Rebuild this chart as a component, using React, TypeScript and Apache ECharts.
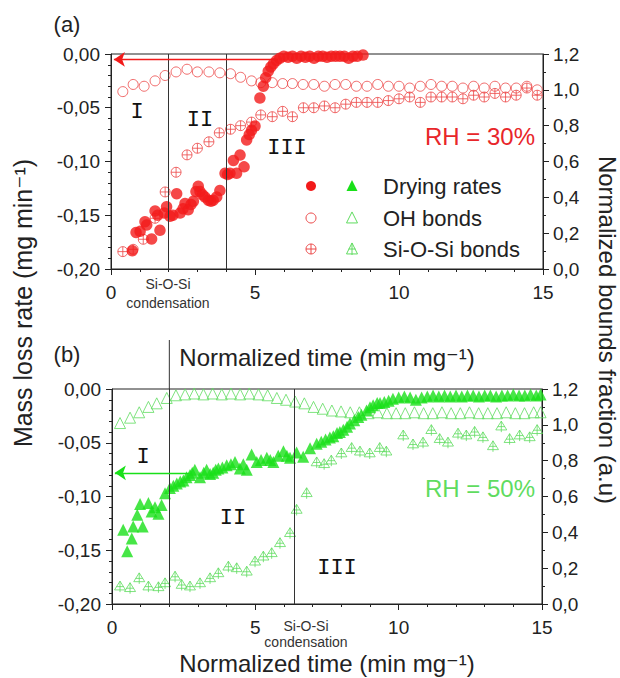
import { useEffect, useRef } from 'react';
import * as echarts from 'echarts';

// ---------- data ----------
const xTickValues = [0, 5, 10, 15];
const leftTicks = [-0.2, -0.15, -0.1, -0.05, 0];
const rightTicks = [0, 0.2, 0.4, 0.6, 0.8, 1.0, 1.2];
const stageLinesA = [2, 4];
const stageLinesB = [2, 6.35];

// (a) RH = 30 %
const dryingA: [number, number][] = [
  [0.74, -0.183], [0.87, -0.166], [1.01, -0.165], [1.18, -0.156], [1.24, -0.159], [1.41, -0.172],
  [1.53, -0.146], [1.62, -0.150], [1.7, -0.164], [1.85, -0.148], [1.93, -0.142], [2.05, -0.151],
  [2.15, -0.150], [2.28, -0.130], [2.4, -0.148], [2.5, -0.144], [2.57, -0.139], [2.68, -0.145],
  [2.78, -0.140], [2.86, -0.137], [2.95, -0.128], [3.03, -0.123], [3.09, -0.128], [3.18, -0.131],
  [3.26, -0.133], [3.38, -0.136], [3.47, -0.137], [3.55, -0.136], [3.67, -0.133], [3.78, -0.127],
  [3.96, -0.111], [4.05, -0.112], [4.13, -0.111], [4.25, -0.099], [4.36, -0.111], [4.48, -0.094],
  [4.62, -0.105], [4.71, -0.080], [4.8, -0.075], [4.88, -0.071], [5.0, -0.067], [5.17, -0.041],
  [5.29, -0.030], [5.37, -0.022], [5.46, -0.016], [5.55, -0.012], [5.64, -0.009], [5.75, -0.006],
  [5.86, -0.004], [6.0, -0.002], [6.15, -0.003], [6.3, -0.002], [6.45, -0.004], [6.6, -0.002],
  [6.75, -0.003], [6.9, -0.002], [7.05, -0.004], [7.2, -0.002], [7.35, -0.002], [7.5, -0.003],
  [7.65, -0.002], [7.8, -0.002], [7.95, -0.002], [8.1, -0.002], [8.25, -0.004], [8.4, -0.002],
  [8.55, -0.002], [8.75, -0.001],
];
const ohA: [number, number][] = [
  [0.41, 0.99], [0.77, 1.03], [1.15, 1.02], [1.53, 1.05], [1.88, 1.08], [2.26, 1.10], [2.64, 1.115],
  [3.0, 1.10], [3.4, 1.10], [3.78, 1.095], [4.15, 1.09], [4.5, 1.07], [4.88, 1.05], [5.2, 1.04],
  [5.6, 1.04], [5.96, 1.035], [6.3, 1.035], [6.67, 1.03], [7.04, 1.03], [7.41, 1.02], [7.78, 1.03],
  [8.15, 1.03], [8.52, 1.02], [8.89, 1.02], [9.26, 1.03], [9.63, 1.02], [10.0, 1.02], [10.37, 1.01],
  [10.74, 1.02], [11.11, 1.03], [11.48, 1.02], [11.85, 1.02], [12.22, 1.01], [12.59, 1.02],
  [12.96, 1.01], [13.33, 1.02], [13.7, 1.01], [14.07, 1.01], [14.44, 1.02], [14.8, 1.0],
];
const siosiA: [number, number][] = [
  [0.41, 0.097], [0.77, 0.11], [1.12, 0.166], [1.53, 0.283], [1.88, 0.43], [2.26, 0.54], [2.64, 0.637],
  [3.0, 0.674], [3.4, 0.71], [3.76, 0.76], [4.15, 0.78], [4.5, 0.80], [4.88, 0.82], [5.2, 0.86],
  [5.6, 0.85], [5.96, 0.88], [6.3, 0.85], [6.68, 0.90], [7.04, 0.90], [7.41, 0.91], [7.78, 0.90],
  [8.15, 0.92], [8.52, 0.93], [8.89, 0.93], [9.26, 0.93], [9.63, 0.94], [10.0, 0.95], [10.37, 0.96],
  [10.74, 0.93], [11.11, 0.96], [11.48, 0.96], [11.85, 0.96], [12.22, 0.95], [12.59, 0.97],
  [12.96, 0.96], [13.33, 0.98], [13.7, 0.96], [14.07, 0.97], [14.44, 1.01], [14.8, 0.97],
];

// (b) RH = 50 %
const dryingB: [number, number][] = [
  [0.39, -0.131], [0.53, -0.151], [0.69, -0.139], [0.74, -0.128], [0.88, -0.117], [0.98, -0.107],
  [1.07, -0.128], [1.27, -0.106], [1.38, -0.114], [1.5, -0.110], [1.62, -0.116], [1.73, -0.108],
  [1.85, -0.097], [2.02, -0.092], [2.14, -0.090], [2.26, -0.088], [2.38, -0.086], [2.49, -0.085],
  [2.6, -0.082], [2.72, -0.080], [2.8, -0.078], [2.89, -0.075], [3.07, -0.082], [3.2, -0.078],
  [3.3, -0.075], [3.42, -0.079], [3.53, -0.078], [3.62, -0.075], [3.71, -0.074], [3.85, -0.073],
  [4.0, -0.071], [4.15, -0.070], [4.29, -0.068], [4.46, -0.074], [4.58, -0.070], [4.7, -0.075],
  [4.87, -0.061], [5.05, -0.068], [5.2, -0.066], [5.4, -0.064], [5.52, -0.066], [5.63, -0.068],
  [5.8, -0.062], [5.98, -0.058], [6.1, -0.062], [6.21, -0.064], [6.44, -0.059], [6.67, -0.063],
  [6.91, -0.055], [7.14, -0.051], [7.3, -0.049], [7.45, -0.047], [7.6, -0.045], [7.72, -0.044],
  [7.85, -0.041], [7.95, -0.040], [8.07, -0.038], [8.2, -0.035], [8.3, -0.032], [8.45, -0.029],
  [8.59, -0.026], [8.7, -0.024], [8.88, -0.020], [9.0, -0.017], [9.11, -0.015], [9.25, -0.013],
  [9.35, -0.013], [9.5, -0.012], [9.65, -0.011], [9.8, -0.009], [10.0, -0.008], [10.2, -0.007],
  [10.4, -0.008], [10.6, -0.010], [10.8, -0.008], [11.0, -0.007], [11.2, -0.006], [11.4, -0.007],
  [11.6, -0.006], [11.8, -0.007], [12.0, -0.006], [12.2, -0.007], [12.4, -0.006], [12.6, -0.006],
  [12.8, -0.007], [13.0, -0.006], [13.2, -0.006], [13.4, -0.007], [13.6, -0.006], [13.8, -0.006],
  [14.0, -0.005], [14.2, -0.006], [14.4, -0.006], [14.6, -0.005], [14.8, -0.006], [14.95, -0.005],
];
const ohB: [number, number][] = [
  [0.28, 1.01], [0.63, 1.04], [0.95, 1.07], [1.27, 1.10], [1.56, 1.12], [1.91, 1.15], [2.23, 1.165],
  [2.55, 1.17], [2.87, 1.175], [3.19, 1.17], [3.51, 1.175], [3.83, 1.17], [4.15, 1.175], [4.47, 1.17],
  [4.79, 1.175], [5.11, 1.17], [5.43, 1.165], [5.75, 1.15], [6.07, 1.14], [6.39, 1.13], [6.71, 1.12],
  [7.03, 1.10], [7.35, 1.09], [7.67, 1.08], [7.99, 1.075], [8.31, 1.07], [8.63, 1.07], [8.95, 1.065],
  [9.27, 1.07], [9.59, 1.065], [9.91, 1.065], [10.23, 1.065], [10.55, 1.07], [10.87, 1.065],
  [11.19, 1.065], [11.51, 1.07], [11.83, 1.065], [12.15, 1.065], [12.47, 1.07], [12.79, 1.065],
  [13.11, 1.065], [13.43, 1.065], [13.75, 1.07], [14.07, 1.065], [14.39, 1.065], [14.71, 1.07],
  [14.95, 1.07],
];
const siosiB: [number, number][] = [
  [0.28, 0.097], [0.63, 0.088], [0.95, 0.143], [1.27, 0.097], [1.62, 0.093], [1.85, 0.115],
  [2.2, 0.152], [2.43, 0.106], [2.72, 0.097], [3.07, 0.115], [3.42, 0.143], [3.71, 0.171],
  [4.06, 0.208], [4.35, 0.199], [4.7, 0.18], [4.99, 0.236], [5.28, 0.264], [5.57, 0.283],
  [5.86, 0.339], [6.21, 0.395], [6.44, 0.525], [6.79, 0.618], [7.14, 0.79], [7.4, 0.78],
  [7.65, 0.80], [8.0, 0.84], [8.36, 0.87], [8.65, 0.85], [8.99, 0.84], [9.34, 0.87], [9.57, 0.85],
  [10.16, 0.94], [10.5, 0.89], [10.85, 0.90], [11.14, 0.97], [11.43, 0.92], [11.72, 0.90],
  [12.07, 0.95], [12.36, 0.94], [12.65, 0.96], [12.94, 0.93], [13.29, 0.88], [13.58, 0.99],
  [13.87, 0.92], [14.22, 0.94], [14.57, 0.93], [14.83, 0.97],
];

// arrows pointing to the left axis
const arrowA: [number, number][] = [[5.8, -0.005], [0.1, -0.005]];
const arrowB: [number, number][] = [[2.7, -0.078], [0.1, -0.078]];

const legendLabels = ['Drying rates', 'OH bonds', 'Si-O-Si bonds'];

// ---------- styles ----------
const FONT = '"Liberation Sans", Arial, "DejaVu Sans", sans-serif';
const MONO = '"Liberation Mono", "Courier New", monospace';
const RED = '#f21a1a';
const RED_L = '#ec4646';
const GREEN = '#19e019';
const GREEN_L = '#5fdc5f';
const AX = '#222';

const CIRCLE_PLUS = 'path://M0,-10 A10,10 0 1,1 0,10 A10,10 0 1,1 0,-10 Z M0,-10 L0,10 M-10,0 L10,0';
const TRI_PLUS = 'path://M0,-10 L9,6 L-9,6 Z M0,-10 L0,10 M-6,0 L6,0';

const fmtLeft = (v: number) => (Math.abs(v) < 1e-9 ? '0,00' : v.toFixed(2).replace('.', ','));
const fmtRight = (v: number) => v.toFixed(1).replace('.', ',');

function xAxisCfg(gridIndex: number, nameGap: number) {
  return {
    type: 'value', gridIndex, position: 'bottom',
    min: xTickValues[0], max: xTickValues[xTickValues.length - 1], interval: xTickValues[1] - xTickValues[0],
    name: 'Normalized time (min mg⁻¹)', nameLocation: 'middle', nameGap,
    nameTextStyle: { fontSize: 24, fontFamily: FONT, color: AX },
    axisLine: { show: true, onZero: false, lineStyle: { color: AX, width: 1 } },
    axisTick: { show: true, length: 6, lineStyle: { color: AX } },
    minorTick: { show: true, splitNumber: 5, length: 3, lineStyle: { color: AX } },
    splitLine: { show: false },
    axisLabel: { fontSize: 19, fontFamily: FONT, color: AX, margin: 14 },
  };
}
function yLeftCfg(gridIndex: number) {
  return {
    type: 'value', gridIndex, position: 'left',
    min: leftTicks[0], max: leftTicks[leftTicks.length - 1], interval: 0.05,
    axisLine: { show: true, onZero: false, lineStyle: { color: AX, width: 1 } },
    axisTick: { show: true, length: 6, lineStyle: { color: AX } },
    minorTick: { show: true, splitNumber: 5, length: 3, lineStyle: { color: AX } },
    splitLine: { show: false },
    axisLabel: { fontSize: 19, fontFamily: FONT, color: AX, margin: 11, formatter: fmtLeft },
  };
}
function yRightCfg(gridIndex: number) {
  return {
    type: 'value', gridIndex, position: 'right',
    min: rightTicks[0], max: rightTicks[rightTicks.length - 1], interval: 0.2,
    axisLine: { show: true, onZero: false, lineStyle: { color: AX, width: 1 } },
    axisTick: { show: true, length: 6, lineStyle: { color: AX } },
    minorTick: { show: true, splitNumber: 2, length: 3, lineStyle: { color: AX } },
    splitLine: { show: false },
    axisLabel: { fontSize: 19, fontFamily: FONT, color: AX, margin: 10, formatter: fmtRight },
  };
}

function stageMarkLine(values: number[]) {
  return {
    silent: true, symbol: 'none', animation: false,
    label: { show: false },
    lineStyle: { color: '#333', width: 1, type: 'solid' },
    emphasis: { disabled: true },
    data: values.map((v) => ({ xAxis: v })),
  };
}
function arrowMarkLine(pts: [number, number][], color: string) {
  return {
    silent: true, symbol: ['none', 'arrow'], symbolSize: 11, animation: false,
    label: { show: false },
    itemStyle: { color },
    lineStyle: { color, width: 1.3, type: 'solid', opacity: 1 },
    emphasis: { disabled: true },
    data: [[{ coord: pts[0] }, { coord: pts[1] }]],
  };
}

export default function App() {
  const ref = useRef<HTMLDivElement>(null);
  useEffect(() => {
    document.body.style.margin = '0';
    if (!ref.current) return;
    const chart = echarts.init(ref.current, null, { renderer: 'svg' });
    const option: any = {
      animation: false,
      backgroundColor: '#fff',
      grid: [
        { left: 111, top: 54, width: 432, height: 215, show: true, borderColor: AX, borderWidth: 1, backgroundColor: 'transparent' },
        { left: 112, top: 389, width: 430, height: 215, show: true, borderColor: AX, borderWidth: 1, backgroundColor: 'transparent' },
      ],
      xAxis: [xAxisCfg(0, 76), xAxisCfg(1, 47)],
      yAxis: [yLeftCfg(0), yRightCfg(0), yLeftCfg(1), yRightCfg(1)],
      series: [
        {
          name: 'OH bonds (a)', type: 'scatter', xAxisIndex: 0, yAxisIndex: 1, data: ohA,
          symbol: 'circle', symbolSize: 10,
          itemStyle: { color: 'transparent', borderColor: RED_L, borderWidth: 1 },
          markLine: stageMarkLine(stageLinesA),
        },
        {
          name: 'Si-O-Si bonds (a)', type: 'scatter', xAxisIndex: 0, yAxisIndex: 1, data: siosiA,
          symbol: CIRCLE_PLUS, symbolSize: 10,
          itemStyle: { color: 'transparent', borderColor: RED_L, borderWidth: 1 },
        },
        {
          name: 'Drying rates (a)', type: 'scatter', xAxisIndex: 0, yAxisIndex: 0, data: dryingA,
          symbol: 'circle', symbolSize: 11.5,
          itemStyle: { color: RED },
          markLine: arrowMarkLine(arrowA, RED),
        },
        {
          name: 'OH bonds (b)', type: 'scatter', xAxisIndex: 1, yAxisIndex: 3, data: ohB,
          symbol: 'triangle', symbolSize: 11,
          itemStyle: { color: 'transparent', borderColor: GREEN_L, borderWidth: 1 },
          markLine: stageMarkLine(stageLinesB),
        },
        {
          name: 'Si-O-Si bonds (b)', type: 'scatter', xAxisIndex: 1, yAxisIndex: 3, data: siosiB,
          symbol: TRI_PLUS, symbolSize: 11,
          itemStyle: { color: 'transparent', borderColor: GREEN_L, borderWidth: 1 },
        },
        {
          name: 'Drying rates (b)', type: 'scatter', xAxisIndex: 1, yAxisIndex: 2, data: dryingB,
          symbol: 'triangle', symbolSize: 12,
          itemStyle: { color: GREEN },
          markLine: arrowMarkLine(arrowB, GREEN),
        },
      ],
    };
    chart.setOption(option);

    // extension of the first stage line of panel (b) above the frame
    const lineX = chart.convertToPixel({ xAxisIndex: 1 }, stageLinesB[0]) as number;
    const topY = chart.convertToPixel({ yAxisIndex: 2 }, 0) as number;

    const txt = (text: string, x: number, y: number, fontSize: number, fill: string, extra: any = {}) => ({
      type: 'text', x, y, silent: true,
      style: { text, fontSize, fontFamily: FONT, fill, align: 'center', verticalAlign: 'middle', ...extra },
    });
    const roman = (text: string, x: number, y: number) => ({
      type: 'text', x, y, silent: true,
      style: { text, fontSize: 22, fontFamily: MONO, fill: '#111', align: 'center', verticalAlign: 'middle' },
    });

    const legendRows = [186, 218, 249];
    const lxR = 311, lxG = 352, lxT = 383;
    const tri = (cx: number, cy: number, s: number) => [[cx, cy - s * 0.55], [cx + s * 0.5, cy + s * 0.45], [cx - s * 0.5, cy + s * 0.45]];

    const graphic: any[] = [
      { type: 'line', silent: true, shape: { x1: lineX, y1: 340, x2: lineX, y2: topY }, style: { stroke: '#333', lineWidth: 1 } },
      txt('(a)', 67, 24, 22, '#222'),
      txt('(b)', 67, 354, 22, '#222'),
      { ...txt('Mass loss rate (mg min⁻¹)', 23, 303, 25, '#222'), rotation: Math.PI / 2 },
      { ...txt('Normalized bounds fraction (a.u)', 607, 330, 24, '#222'), rotation: -Math.PI / 2 },
      txt('Si-O-Si\ncondensation', 168, 293, 14, '#333', { lineHeight: 19 }),
      txt('Si-O-Si\ncondensation', 306, 634, 14, '#333', { lineHeight: 16 }),
      txt('RH = 30%', 480, 136, 24, '#e8262a'),
      txt('RH = 50%', 480, 488, 24, GREEN_L),
      roman('I', 137, 112), roman('II', 200, 120), roman('III', 287, 148),
      roman('I', 143, 457), roman('II', 233, 518), roman('III', 337, 568),
      // legend
      { type: 'circle', silent: true, shape: { cx: lxR, cy: legendRows[0], r: 5 }, style: { fill: RED } },
      { type: 'polygon', silent: true, shape: { points: tri(lxG, legendRows[0], 11) }, style: { fill: GREEN } },
      { type: 'circle', silent: true, shape: { cx: lxR, cy: legendRows[1], r: 5 }, style: { fill: 'none', stroke: RED_L, lineWidth: 1 } },
      { type: 'polygon', silent: true, shape: { points: tri(lxG, legendRows[1], 11) }, style: { fill: 'none', stroke: GREEN_L, lineWidth: 1 } },
      { type: 'circle', silent: true, shape: { cx: lxR, cy: legendRows[2], r: 5 }, style: { fill: 'none', stroke: RED_L, lineWidth: 1 } },
      { type: 'line', silent: true, shape: { x1: lxR - 5, y1: legendRows[2], x2: lxR + 5, y2: legendRows[2] }, style: { stroke: RED_L, lineWidth: 1 } },
      { type: 'line', silent: true, shape: { x1: lxR, y1: legendRows[2] - 5, x2: lxR, y2: legendRows[2] + 5 }, style: { stroke: RED_L, lineWidth: 1 } },
      { type: 'polygon', silent: true, shape: { points: tri(lxG, legendRows[2], 11) }, style: { fill: 'none', stroke: GREEN_L, lineWidth: 1 } },
      { type: 'line', silent: true, shape: { x1: lxG, y1: legendRows[2] - 6, x2: lxG, y2: legendRows[2] + 6 }, style: { stroke: GREEN_L, lineWidth: 1 } },
      { type: 'line', silent: true, shape: { x1: lxG - 3.5, y1: legendRows[2], x2: lxG + 3.5, y2: legendRows[2] }, style: { stroke: GREEN_L, lineWidth: 1 } },
      ...legendLabels.map((t, i) => ({
        type: 'text', x: lxT, y: legendRows[i], silent: true,
        style: { text: t, fontSize: 22, fontFamily: FONT, fill: '#222', align: 'left', verticalAlign: 'middle' },
      })),
    ];
    chart.setOption({ graphic });

    return () => chart.dispose();
  }, []);
  return <div ref={ref} style={{ width: 620, height: 678 }} />;
}
